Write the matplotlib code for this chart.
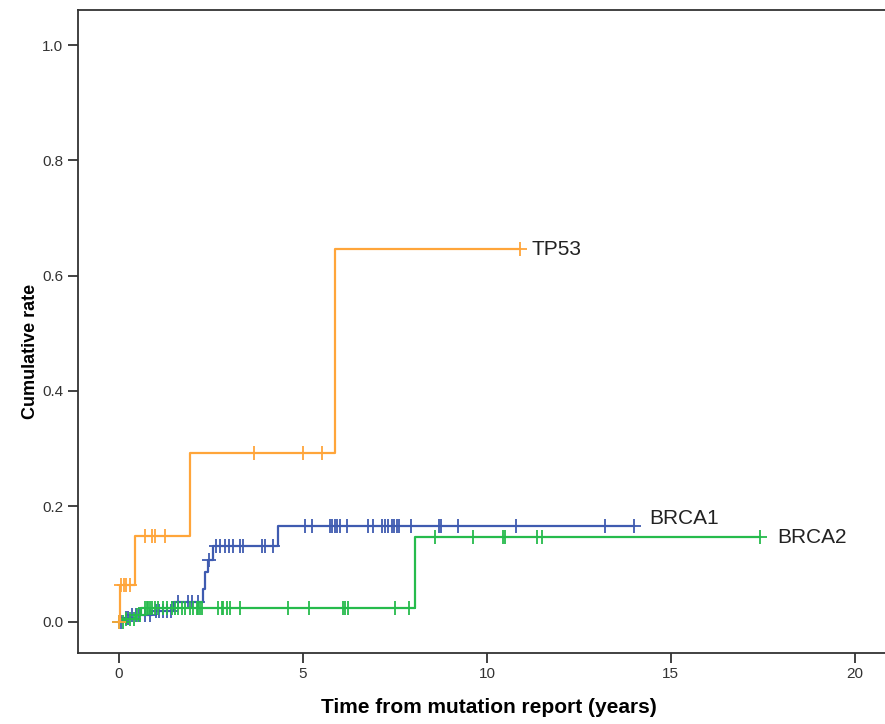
import matplotlib
matplotlib.use('Agg')
import matplotlib.pyplot as plt
import numpy as np

plt.rcParams['font.family'] = ['Liberation Sans', 'DejaVu Sans']

# event steps (time in years, cumulative rate after the step) and censored times
tp53_t = [0.02, 0.43, 1.93, 5.87]
tp53_y = [0.063, 0.148, 0.292, 0.646]
tp53_cens = [0.0, 0.06, 0.15, 0.2, 0.29, 0.71, 0.89, 0.98, 1.25, 3.68, 5.01, 5.53, 10.9]

brca1_t = [0.1, 0.3, 0.9, 1.5, 2.28, 2.33, 2.42, 2.55, 4.33]
brca1_y = [0.006, 0.012, 0.018, 0.034, 0.057, 0.086, 0.106, 0.131, 0.166]
brca1_cens = [0.0, 0.05, 0.2, 0.25, 0.35, 0.45, 0.55, 0.7, 0.85, 1.0, 1.1, 1.2, 1.3, 1.42,
              1.61, 1.88, 1.98, 2.15, 2.45, 2.64, 2.75, 2.88, 3.0, 3.1, 3.29, 3.38, 3.9,
              3.97, 4.2, 5.05, 5.24, 5.73, 5.8, 5.87, 5.93, 6.0, 6.21, 6.77, 6.91, 7.14,
              7.23, 7.32, 7.41, 7.47, 7.55, 7.62, 7.95, 8.70, 8.74, 9.22, 10.79, 13.21, 14.0]

brca2_t = [0.15, 0.45, 0.6, 8.04]
brca2_y = [0.005, 0.012, 0.024, 0.146]
brca2_cens = [0.0, 0.1, 0.2, 0.3, 0.4, 0.5, 0.57, 0.71, 0.75, 0.8, 0.84, 0.89, 0.98, 1.07,
              1.2, 1.3, 1.43, 1.52, 1.61, 1.7, 1.79, 1.93, 2.02, 2.11, 2.16, 2.2, 2.25, 2.7,
              2.79, 2.84, 2.93, 3.02, 3.29, 4.6, 5.17, 6.1, 6.14, 6.23, 7.5, 7.89, 8.59,
              9.61, 10.44, 10.49, 11.35, 11.49, 17.42]

groups = ['BRCA1', 'BRCA2', 'TP53']
colors = {'TP53': '#ffa53a', 'BRCA1': '#3f5bb0', 'BRCA2': '#26bb4c'}
label_pos = {'TP53': (11.22, 0.646), 'BRCA1': (14.4, 0.179), 'BRCA2': (17.9, 0.146)}
series = {'TP53': (tp53_t, tp53_y, tp53_cens),
          'BRCA1': (brca1_t, brca1_y, brca1_cens),
          'BRCA2': (brca2_t, brca2_y, brca2_cens)}

fig = plt.figure(figsize=(8.85, 7.24), dpi=100)
ax = fig.add_axes([0.0881, 0.0985, 0.9119, 0.8870])

for g in groups:
    t, y, cens = series[g]
    end = max(cens)
    xs = np.concatenate([[0.0], t, [end]])
    ys = np.concatenate([[0.0], y, [y[-1]]])
    ax.step(xs, ys, where='post', color=colors[g], lw=1.6)
    # cumulative rate at each censored time
    idx = np.searchsorted(xs, cens, side='right') - 1
    ax.plot(cens, ys[idx], ls='none', marker='+', ms=10, mew=1.3, color=colors[g])
    lx, ly = label_pos[g]
    ax.text(lx, ly, g, fontsize=15, va='center', ha='left', color='#222222')

ax.set_xlim(-1.114, 20.82)
ax.set_ylim(-0.054, 1.06)
ax.set_xticks([0, 5, 10, 15, 20])
ax.set_yticks([0.0, 0.2, 0.4, 0.6, 0.8, 1.0])
ax.set_yticklabels(['0.0', '0.2', '0.4', '0.6', '0.8', '1.0'])
ax.tick_params(direction='out', length=7, width=1.3, labelsize=11, colors='#333333')
ax.spines['right'].set_visible(False)
for s in ['top', 'left', 'bottom']:
    ax.spines[s].set_linewidth(1.3)
    ax.spines[s].set_color('#333333')

ax.set_xlabel('Time from mutation report (years)', fontsize=15, fontweight='bold')
ax.set_ylabel('Cumulative rate', fontsize=13, fontweight='bold')
ax.xaxis.set_label_coords(0.509, -0.0857)
ax.yaxis.set_label_coords(-0.059, 0.469)
ax.xaxis.label.set_va('center')
ax.yaxis.label.set_va('center')

fig.savefig('out.png', dpi=100)
